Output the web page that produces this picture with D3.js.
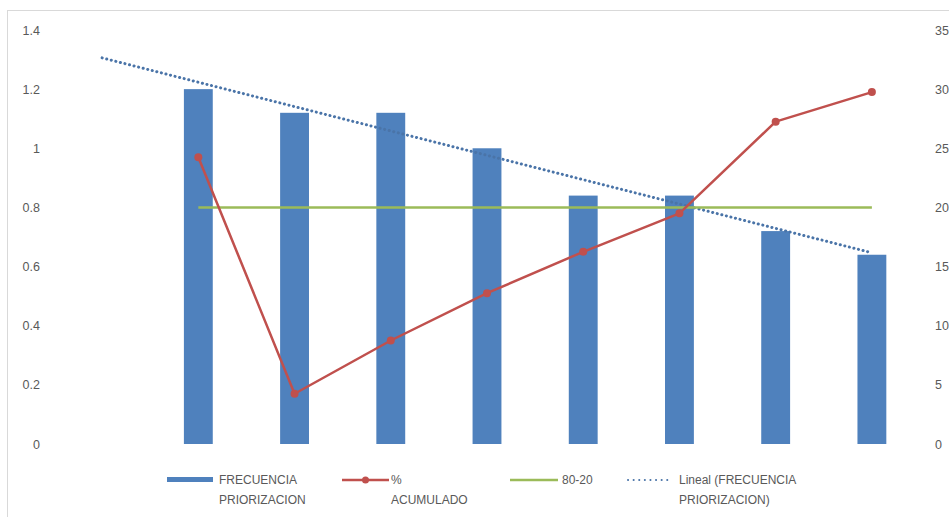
<!DOCTYPE html>
<html>
<head>
<meta charset="utf-8">
<script src="https://cdn.jsdelivr.net/npm/d3@7"></script>
<style>
  html, body { margin: 0; padding: 0; background: #fff; }
  svg { display: block; }
  text { font-family: "Liberation Sans", Arial, sans-serif; fill: #595959; }
</style>
</head>
<body>
<script>
// Pareto data: frequency per item (right axis), cumulative share (left axis)
const categories = [1, 2, 3, 4, 5, 6, 7, 8];
const frequency = [30, 28, 28, 25, 21, 21, 18, 16];
const cumulative = [0.97, 0.17, 0.35, 0.51, 0.65, 0.78, 1.09, 1.19];
const threshold = [0.8, 0.8, 0.8, 0.8, 0.8, 0.8, 0.8, 0.8];
const leftTicks = [0, 0.2, 0.4, 0.6, 0.8, 1, 1.2, 1.4];
const rightTicks = [0, 5, 10, 15, 20, 25, 30, 35];
const legendLabels = [
  ["FRECUENCIA", "PRIORIZACION"],
  ["%", "ACUMULADO"],
  ["80-20"],
  ["Lineal (FRECUENCIA", "PRIORIZACION)"]
];

const W = 949, H = 517;
const BLUE = "#4f81bd", RED = "#c0504d", GREEN = "#9bbb59";

const svg = d3.select("body").append("svg").attr("width", W).attr("height", H);

// chart frame
svg.append("rect").attr("x", 7.5).attr("y", 10.5).attr("width", W).attr("height", H)
  .attr("fill", "#fff").attr("stroke", "#d9d9d9").attr("stroke-width", 1);

// index -1 is the backward forecast slot of the trendline
const x = d3.scaleLinear().domain([-1.5, categories.length - 0.5]).range([54, 920]);
const step = x(1) - x(0);
const yL = d3.scaleLinear().domain([0, 1.4]).range([444, 30]);
const yR = d3.scaleLinear().domain([0, 35]).range([444, 30]);

// axes (labels only)
const axL = d3.axisLeft(yL).tickValues(leftTicks).tickSize(0).tickPadding(0)
  .tickFormat(d => d3.format("")(+d.toFixed(1)));
svg.append("g").attr("transform", "translate(40,0)").call(axL)
  .call(g => g.select(".domain").remove())
  .selectAll("text").style("font-size", "12.5px").attr("fill", "#595959")
  .style("font-family", "'Liberation Sans', Arial, sans-serif");

const axR = d3.axisRight(yR).tickValues(rightTicks).tickSize(0).tickPadding(0);
svg.append("g").attr("transform", "translate(935,0)").call(axR)
  .call(g => g.select(".domain").remove())
  .selectAll("text").style("font-size", "12.5px").attr("fill", "#595959")
  .style("font-family", "'Liberation Sans', Arial, sans-serif");

// bars
const barW = step * 0.3;
svg.append("g").selectAll("rect").data(frequency).join("rect")
  .attr("x", (d, i) => x(i) - barW / 2)
  .attr("y", d => yR(d))
  .attr("width", barW)
  .attr("height", d => yR(0) - yR(d))
  .attr("fill", BLUE);

// linear trendline of the frequency series, extended one period backward
const xs = frequency.map((d, i) => i);
const mx = d3.mean(xs), my = d3.mean(frequency);
const slope = d3.sum(xs, (xi, i) => (xi - mx) * (frequency[i] - my)) / d3.sum(xs, xi => (xi - mx) ** 2);
const icpt = my - slope * mx;
const trendPts = [-1, frequency.length - 1].map(xi => [x(xi), yR(icpt + slope * xi)]);
svg.append("path").attr("d", d3.line()(trendPts))
  .attr("fill", "none").attr("stroke", "#4a74a8").attr("stroke-width", 3)
  .attr("stroke-dasharray", "0.1 4.6").attr("stroke-linecap", "round");

// 80-20 reference line
svg.append("path")
  .attr("d", d3.line().x((d, i) => x(i)).y(d => yL(d))(threshold))
  .attr("fill", "none").attr("stroke", GREEN).attr("stroke-width", 2.5);

// cumulative line with markers
svg.append("path")
  .attr("d", d3.line().x((d, i) => x(i)).y(d => yL(d))(cumulative))
  .attr("fill", "none").attr("stroke", RED).attr("stroke-width", 2.5)
  .attr("stroke-linejoin", "round");
svg.append("g").selectAll("circle").data(cumulative).join("circle")
  .attr("cx", (d, i) => x(i)).attr("cy", d => yL(d)).attr("r", 4)
  .attr("fill", RED);

// legend
const lg = svg.append("g").style("font-size", "12px");
const items = [
  { x0: 167, x1: 213, tx: 219, type: "bar" },
  { x0: 342, x1: 389, tx: 391, type: "marker" },
  { x0: 510, x1: 558, tx: 562, type: "line" },
  { x0: 628, x1: 668, tx: 679, type: "dots" }
];
const ly = 480;
items.forEach((it, k) => {
  const g = lg.append("g");
  if (it.type === "bar") {
    g.append("rect").attr("x", it.x0).attr("y", ly - 3).attr("width", it.x1 - it.x0).attr("height", 5).attr("fill", BLUE);
  } else if (it.type === "marker") {
    g.append("line").attr("x1", it.x0).attr("x2", it.x1).attr("y1", ly).attr("y2", ly).attr("stroke", RED).attr("stroke-width", 2.5);
    g.append("circle").attr("cx", (it.x0 + it.x1) / 2).attr("cy", ly).attr("r", 3.5).attr("fill", RED);
  } else if (it.type === "line") {
    g.append("line").attr("x1", it.x0).attr("x2", it.x1).attr("y1", ly).attr("y2", ly).attr("stroke", GREEN).attr("stroke-width", 2.5);
  } else {
    g.append("line").attr("x1", it.x0).attr("x2", it.x1).attr("y1", ly).attr("y2", ly).attr("stroke", "#4a74a8")
      .attr("stroke-width", 2).attr("stroke-dasharray", "0.1 5.5").attr("stroke-linecap", "round");
  }
  legendLabels[k].forEach((t, j) => {
    g.append("text").attr("x", it.tx).attr("y", ly + j * 20).attr("dy", "0.35em").text(t);
  });
});
</script>
</body>
</html>
